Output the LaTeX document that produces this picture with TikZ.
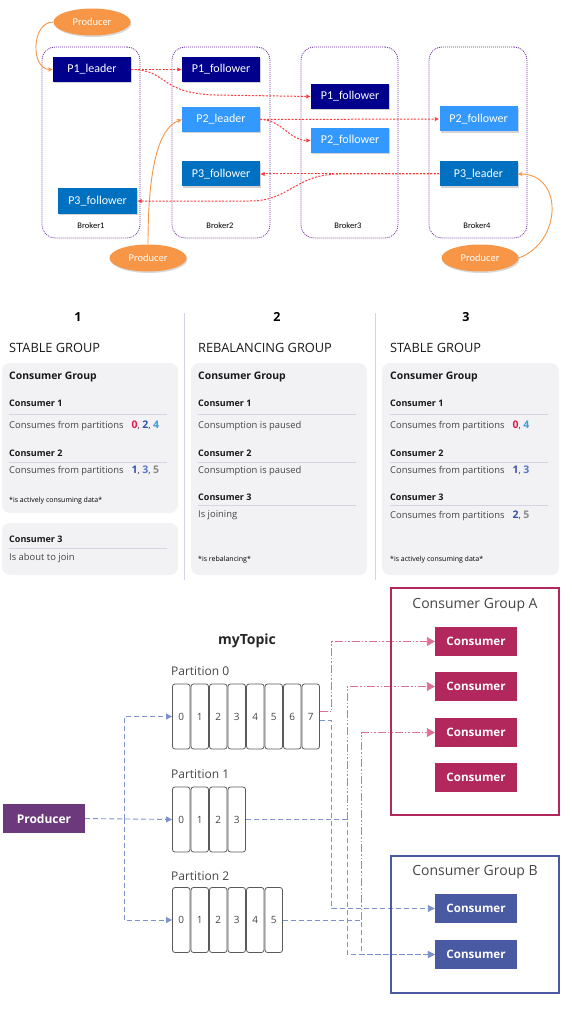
\documentclass[tikz,border=0pt]{standalone}
\usepackage{fontspec}
\setmainfont{Open Sans}
\newfontfamily\calib{Carlito}
\usetikzlibrary{arrows.meta,shapes.geometric,shadows}
\definecolor{pnavy}{HTML}{00008C}
\definecolor{plight}{HTML}{3399FF}
\definecolor{pmid}{HTML}{0070C0}
\definecolor{porange}{HTML}{F79646}
\definecolor{brkline}{HTML}{7030A0}
\definecolor{replc}{HTML}{FF3B3B}
\definecolor{cardbg}{HTML}{F2F2F5}
\definecolor{rulec}{HTML}{D3D5E6}
\definecolor{txtc}{HTML}{454545}
\definecolor{nred}{HTML}{E3184B}
\definecolor{ndark}{HTML}{3550A8}
\definecolor{nsky}{HTML}{3F9AD8}
\definecolor{nmid}{HTML}{5677CC}
\definecolor{ngray}{HTML}{8A8A8A}
\definecolor{prodc}{HTML}{6C3A7C}
\definecolor{grpa}{HTML}{B2285C}
\definecolor{grpb}{HTML}{4A5AA2}
\definecolor{plinkc}{HTML}{DE6F95}
\definecolor{blinkc}{HTML}{7D93CF}
\definecolor{cellc}{HTML}{5A5A5A}
\newcommand\pnum[2]{{\bfseries\fontsize{10.5}{12}\selectfont\color{#1}#2}}

\begin{document}
\begin{tikzpicture}[x=1pt,y=-1pt,
  broker/.style={draw=brkline,dash pattern=on 1pt off 1pt,line width=0.8pt,rounded corners=13pt,minimum width=98pt,minimum height=191pt},
  brklabel/.style={font=\calib\fontsize{8.5}{10}\selectfont},
  part/.style={text=white,font=\calib\fontsize{12}{14}\selectfont,minimum width=78pt,minimum height=25pt,inner sep=0pt,drop shadow={shadow xshift=1pt,shadow yshift=-1.5pt,opacity=.35}},
  prod/.style={ellipse,fill=porange,text=white,font=\calib\fontsize{10.5}{12}\selectfont,minimum width=77pt,minimum height=27pt,inner sep=0pt,drop shadow={shadow xshift=1pt,shadow yshift=-1.5pt,opacity=.3}},
  feed/.style={draw=porange,line width=0.9pt,-{Stealth[length=5pt,width=4.5pt]}},
  repl/.style={draw=replc,line width=1pt,dash pattern=on 2pt off 1.5pt,-{Latex[length=4.5pt,width=4.5pt]}},
  card/.style={fill=cardbg,rounded corners=8pt},
  divider/.style={draw=rulec,line width=1pt},
  sep/.style={draw=rulec,line width=0.8pt},
  colnum/.style={font=\bfseries\fontsize{12.5}{14}\selectfont},
  gtitle/.style={anchor=west,inner sep=0pt,text=black!90,font=\fontsize{12.8}{14}\selectfont},
  ghead/.style={anchor=west,inner sep=0pt,text=black!90,font=\bfseries\fontsize{10.4}{12}\selectfont},
  chead/.style={anchor=west,inner sep=0pt,text=black!90,font=\bfseries\fontsize{9}{10}\selectfont},
  ctext/.style={anchor=west,inner sep=0pt,text=txtc,font=\fontsize{9.4}{11}\selectfont},
  cnote/.style={anchor=west,inner sep=0pt,font=\fontsize{7}{8}\selectfont},
  topic/.style={font=\bfseries\fontsize{14}{16}\selectfont,text=black!85},
  plabel/.style={anchor=west,inner sep=0pt,text=txtc,font=\fontsize{12}{14}\selectfont},
  cell/.style={draw=cellc,line width=0.8pt,rounded corners=2.5pt,minimum width=17.5pt,minimum height=65pt,inner sep=0pt,text=txtc,font=\fontsize{10}{12}\selectfont},
  prodbox/.style={fill=prodc,text=white,font=\bfseries\fontsize{12}{14}\selectfont,minimum width=82pt,minimum height=29pt,inner sep=0pt},
  cons/.style={text=white,font=\bfseries\fontsize{11.6}{13}\selectfont,minimum width=82pt,minimum height=29pt,inner sep=0pt},
  grpbox/.style={line width=2.2pt,minimum width=168pt,inner sep=0pt},
  grptitle/.style={text=txtc,font=\fontsize{14}{16}\selectfont},
  bfeed/.style={draw=blinkc,line width=0.9pt,dash pattern=on 5pt off 3pt,-{Triangle[length=6pt,width=6pt]}},
  bdash/.style={draw=blinkc,line width=0.9pt,dash pattern=on 5pt off 3pt,-{Triangle[length=7pt,width=7pt]}},
  pdash/.style={draw=plinkc,line width=0.9pt,dash pattern=on 8pt off 2pt on 1.5pt off 2pt on 1.5pt off 2pt,-{Triangle[length=8pt,width=9pt]}}]
\useasboundingbox (0,0) rectangle (571,1011);

\node[broker] (b1) at (91,142.5) {};
\node[broker] (b2) at (221,142.5) {};
\node[broker,minimum width=97pt] (b3) at (349.5,142.5) {};
\node[broker] (b4) at (478,142.5) {};
\node[brklabel] (b1l) at (91,226) {Broker1};
\node[brklabel] (b2l) at (220,226) {Broker2};
\node[brklabel] (b3l) at (348,226) {Broker3};
\node[brklabel] (b4l) at (477,226) {Broker4};
\node[part,fill=pnavy] (l1) at (92,69.5) {P1\_leader};
\node[part,fill=pnavy] (f1a) at (221,69.5) {P1\_follower};
\node[part,fill=plight] (l2) at (221,119.5) {P2\_leader};
\node[part,fill=pmid] (f3a) at (221,174) {P3\_follower};
\node[part,fill=pmid,minimum width=79pt] (f3b) at (97.5,201) {P3\_follower};
\node[part,fill=pnavy] (f1b) at (350,96.5) {P1\_follower};
\node[part,fill=plight] (f2a) at (350,140.5) {P2\_follower};
\node[part,fill=plight] (f2b) at (478.5,119) {P2\_follower};
\node[part,fill=pmid] (l3) at (478.5,174) {P3\_leader};
\node[prod] (pa) at (92,22) {Producer};
\node[prod] (pb) at (148,258) {Producer};
\node[prod] (pc) at (480,258) {Producer};
\draw[feed] (pa.west) to[out=180,in=180,looseness=1.2] (l1.west);
\draw[feed] (pb.north) .. controls (148,170) and (158,128) .. (l2.west);
\draw[feed] (pc.east) to[out=20,in=0,looseness=1.4] (l3.east);
\draw[repl] (l1.east) -- (f1a.west);
\draw[repl] (l1.east) .. controls (168,69.5) and (158,93) .. (215,95) -- (f1b.west);
\draw[repl] (l2.east) -- (f2b.west);
\draw[repl] (l2.east) to[out=0,in=180] (f2a.west);
\draw[repl] (l3.west) -- (f3a.east);
\draw[repl] (l3.west) -- (340,174) .. controls (295,174) and (290,201) .. (250,201) -- (f3b.east);

\fill[card] (2,363) rectangle (178,513);
\fill[card] (2,523) rectangle (178,575);
\fill[card] (191,363) rectangle (367,575);
\fill[card] (382,363) rectangle (559,575);
\draw[divider] (184,313) -- (184,580);
\draw[divider] (375,313) -- (375,580);
\node[colnum] (n1) at (78,317) {1};
\node[colnum] (n2) at (277,317) {2};
\node[colnum] (n3) at (466,317) {3};
\node[gtitle] (g1) at (9,348) {STABLE GROUP};
\node[gtitle] (g2) at (198,348) {REBALANCING GROUP};
\node[gtitle] (g3) at (390,348) {STABLE GROUP};
\foreach \x/\k in {9/1,198/2,390/3}{
  \node[ghead] (cg\k) at (\x,377) {Consumer Group};
  \node[chead] (ca\k) at (\x,403) {Consumer 1};
  \draw[sep] (\x,414) -- ++(158,0);
  \node[chead] (cb\k) at (\x,453) {Consumer 2};
  \draw[sep] (\x,462) -- ++(158,0);
}
\node[ctext] (t11) at (9,426) {Consumes from partitions\hspace{8pt}\pnum{nred}{0}, \pnum{ndark}{2}, \pnum{nsky}{4}};
\node[ctext] (t12) at (9,471) {Consumes from partitions\hspace{8pt}\pnum{ndark}{1}, \pnum{nmid}{3}, \pnum{ngray}{5}};
\node[cnote] (m1) at (9,501) {*is actively consuming data*};
\node[chead] (cc1) at (9,539) {Consumer 3};
\draw[sep] (9,548) -- (167,548);
\node[ctext] (t13) at (9,558) {Is about to join};
\node[ctext] (t21) at (198,426) {Consumption is paused};
\node[ctext] (t22) at (198,471) {Consumption is paused};
\node[chead] (cc2) at (198,497) {Consumer 3};
\draw[sep] (198,505) -- (356,505);
\node[ctext] (t23) at (198,515) {Is joining};
\node[cnote] (m2) at (198,560) {*is rebalancing*};
\node[ctext] (t31) at (390,426) {Consumes from partitions\hspace{8pt}\pnum{nred}{0}, \pnum{nsky}{4}};
\node[ctext] (t32) at (390,471) {Consumes from partitions\hspace{8pt}\pnum{ndark}{1}, \pnum{nmid}{3}};
\node[chead] (cc3) at (390,497) {Consumer 3};
\draw[sep] (390,505) -- (548,505);
\node[ctext] (t33) at (390,516) {Consumes from partitions\hspace{8pt}\pnum{ndark}{2}, \pnum{ngray}{5}};
\node[cnote] (m3) at (390,560) {*is actively consuming data*};

\node[topic] (topic) at (247,641) {myTopic};
\node[plabel] (pl0) at (171,671) {Partition 0};
\node[plabel] (pl1) at (171,774) {Partition 1};
\node[plabel] (pl2) at (171,876) {Partition 2};
\foreach \i in {0,...,7} \node[cell] (p0c\i) at (181.25+18.5*\i,716.5) {\i};
\foreach \i in {0,...,3} \node[cell] (p1c\i) at (181.25+18.5*\i,819.5) {\i};
\foreach \i in {0,...,5} \node[cell] (p2c\i) at (181.25+18.5*\i,920) {\i};
\node[prodbox] (prod) at (44,818.5) {Producer};
\coordinate (fork) at (124,818.5);
\draw[bfeed] (prod.east) -- (p1c0.west);
\draw[bfeed] (fork) |- (p0c0.west);
\draw[bfeed] (fork) |- (p2c0.west);
\node[cons,fill=grpa] (ka1) at (476,641.5) {Consumer};
\node[cons,fill=grpa] (ka2) at (476,686.5) {Consumer};
\node[cons,fill=grpa] (ka3) at (476,732.5) {Consumer};
\node[cons,fill=grpa] (ka4) at (476,777.5) {Consumer};
\node[cons,fill=grpb] (kb1) at (476,908.5) {Consumer};
\node[cons,fill=grpb] (kb2) at (476,954.5) {Consumer};
\coordinate (s1) at (347,819.5);
\coordinate (s2) at (361,920);
\draw[pdash] ([yshift=5pt]p0c7.east) -- ++(12,0) |- (ka1.west);
\draw[bdash] ([yshift=-4pt]p0c7.east) -- ++(12,0) |- (kb1.west);
\draw[bdash] (p1c3.east) -- (s1) |- (kb2.west);
\draw[pdash] (s1) |- (ka2.west);
\draw[bdash] (p2c5.east) -- (s2) |- (kb2.west);
\draw[pdash] (s2) |- (ka3.west);
\node[grpbox,draw=grpa,minimum height=227pt] (ga) at (475,701.5) {};
\node[grptitle] (gat) at (475,605) {Consumer Group A};
\node[grpbox,draw=grpb,minimum height=137pt] (gb) at (475,924.5) {};
\node[grptitle] (gbt) at (475,872) {Consumer Group B};
\end{tikzpicture}
\end{document}
